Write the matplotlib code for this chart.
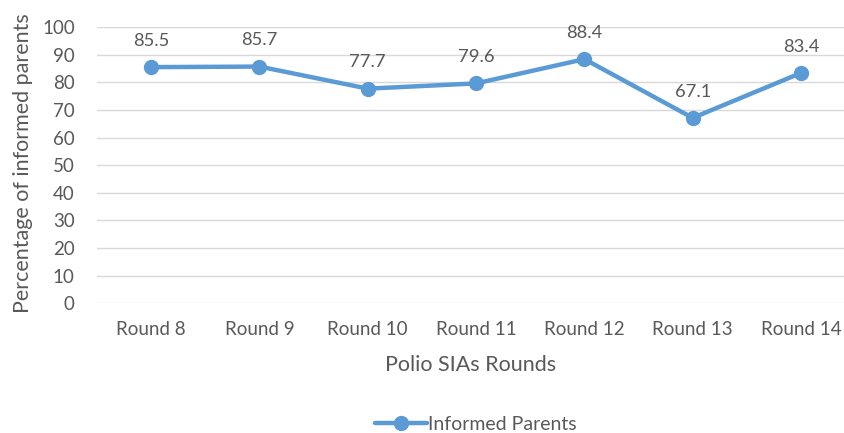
import matplotlib.pyplot as plt

# data
rounds = ['Round 8', 'Round 9', 'Round 10', 'Round 11', 'Round 12', 'Round 13', 'Round 14']
informed = [85.5, 85.7, 77.7, 79.6, 88.4, 67.1, 83.4]

plt.rcParams['font.family'] = ['Lato', 'DejaVu Sans']
grey = '#595959'
blue = '#5B9BD5'

fig = plt.figure(figsize=(8.45, 4.33), dpi=100)
ax = fig.add_axes([97 / 845, 0.300, (845 - 97) / 845, 0.6374])

x = list(range(len(rounds)))
line, = ax.plot(x, informed, color=blue, linewidth=3.2, marker='o', markersize=10,
                label='Informed Parents', solid_capstyle='round')
for xi, v in zip(x, informed):
    ax.annotate(f'{v}', (xi, v), xytext=(0, 19), textcoords='offset points',
                ha='center', va='center', fontsize=13.2, color=grey)

ax.set_xlim(-0.5, 6.406)
ax.set_ylim(0, 100)
ax.set_yticks(range(0, 101, 10))
ax.set_xticks(x)
ax.set_xticklabels(rounds)
ax.tick_params(length=0, labelsize=13.5, labelcolor=grey)
ax.tick_params(axis='x', pad=13)
ax.tick_params(axis='y', pad=16)
ax.grid(axis='y', color='#D9D9D9', linewidth=1)
ax.set_axisbelow(True)
for s in ax.spines.values():
    s.set_visible(False)

ax.set_xlabel('Polio SIAs Rounds', fontsize=15.5, color=grey, labelpad=12)
fig.text(23 / 845, 1 - 163 / 433, 'Percentage of informed parents', rotation=90,
         ha='center', va='center', fontsize=15.5, color=grey)

fig.legend(handles=[line], loc='center', bbox_to_anchor=(476 / 845, 1 - 424 / 433),
           frameon=False, fontsize=14, labelcolor=grey, handlelength=2.7,
           handletextpad=0.05)

fig.savefig('out.png', dpi=100)
